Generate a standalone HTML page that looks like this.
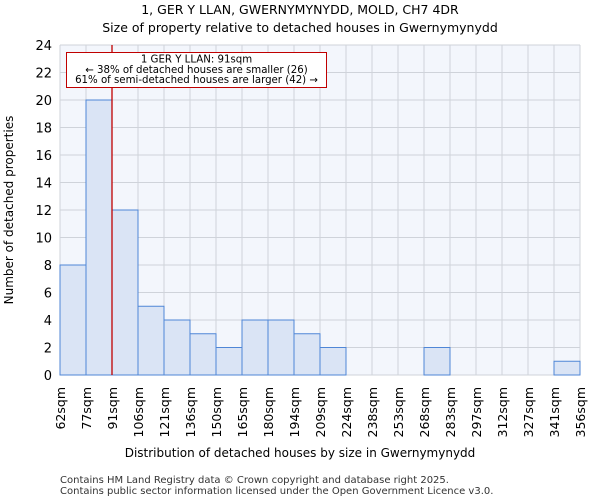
<!DOCTYPE html>
<html><head><meta charset="utf-8"><style>
body{margin:0;background:#fff;font-family:"DejaVu Sans","Liberation Sans",sans-serif;}
svg text{font-family:"DejaVu Sans","Liberation Sans",sans-serif;}
</style></head><body>
<svg id="chart" width="600" height="500" xmlns="http://www.w3.org/2000/svg">
<text x="300" y="14" font-size="12.5" text-anchor="middle">1, GER Y LLAN, GWERNYMYNYDD, MOLD, CH7 4DR</text>
<text x="300" y="32" font-size="12.5" text-anchor="middle">Size of property relative to detached houses in Gwernymynydd</text>
<rect x="60" y="45" width="520" height="330" fill="#f3f6fc"/>
<g id="grid"></g>
<g id="bars"></g>
<g id="axes"></g>
<text x="300" y="457" font-size="12" text-anchor="middle">Distribution of detached houses by size in Gwernymynydd</text>
<text transform="translate(13,210) rotate(-90)" font-size="12" text-anchor="middle">Number of detached properties</text>
<text x="60" y="483" font-size="10" fill="#333">Contains HM Land Registry data © Crown copyright and database right 2025.</text>
<text x="60" y="494" font-size="10" fill="#333">Contains public sector information licensed under the Open Government Licence v3.0.</text>
</svg>
<script>
const categories=["62sqm","77sqm","91sqm","106sqm","121sqm","136sqm","150sqm","165sqm","180sqm","194sqm","209sqm","224sqm","238sqm","253sqm","268sqm","283sqm","297sqm","312sqm","327sqm","341sqm","356sqm"];
const counts=[8,20,12,5,4,3,2,4,4,3,2,0,0,0,2,0,0,0,0,1];
const yTicks=[0,2,4,6,8,10,12,14,16,18,20,22,24];
const markerValue=91;
const binStarts=[62,77,91,106,121,136,150,165,180,194,209,224,238,253,268,283,297,312,327,341,356];
const NS="http://www.w3.org/2000/svg";
const X0=60,X1=580,Y0=375,Y1=45,YMAX=24;
const bw=(X1-X0)/counts.length;
const x=i=>X0+i*bw;
const y=v=>Y0-(v/YMAX)*(Y0-Y1);
function mk(tag,attrs,parent){const e=document.createElementNS(NS,tag);for(const k in attrs)e.setAttribute(k,attrs[k]);parent.appendChild(e);return e;}
const grid=document.getElementById('grid'),bars=document.getElementById('bars'),axes=document.getElementById('axes');
yTicks.forEach(t=>{
  const l=mk('line',{x1:X0,x2:X1,y1:y(t),y2:y(t),stroke:'#cfd3da','stroke-width':1},grid);
  
  
  const tx=mk('text',{x:X0-8,y:y(t)+5,'font-size':13,'text-anchor':'end'},axes);
  tx.textContent=t;
  
  
});
categories.forEach((c,i)=>{
  const l=mk('line',{x1:x(i),x2:x(i),y1:Y1,y2:Y0,stroke:'#cfd3da','stroke-width':1},grid);
  
  
  const tx=mk('text',{transform:`translate(${x(i)+5},${Y0+12}) rotate(-90)`,'font-size':12.5,'text-anchor':'end'},axes);
  tx.textContent=c;
  
  
});
counts.forEach((v,i)=>{
  if(v<=0)return;
  const r=mk('rect',{x:x(i),y:y(v),width:bw,height:Y0-y(v),fill:'#dae4f5',stroke:'#4f86d6','stroke-width':1},bars);
  
  
});
let mi=0;for(let i=0;i<binStarts.length-1;i++){if(markerValue>=binStarts[i])mi=i;}
const mx=x(mi)+(markerValue-binStarts[mi])/(binStarts[mi+1]-binStarts[mi])*bw;
const ml=mk('line',{x1:mx,x2:mx,y1:Y1,y2:Y0,stroke:'#c00000','stroke-width':1.3},axes);


const box=mk('rect',{x:66.5,y:52.5,width:260,height:35,fill:'#fff',stroke:'#c00000','stroke-width':1},axes);


const lines=["1 GER Y LLAN: 91sqm","← 38% of detached houses are smaller (26)","61% of semi-detached houses are larger (42) →"];
lines.forEach((s,k)=>{
  const t=mk('text',{x:196.5,y:62.5+k*10.3,'font-size':10.2,'text-anchor':'middle'},axes);
  t.textContent=s;
  
  
});
</script>
</body></html>
